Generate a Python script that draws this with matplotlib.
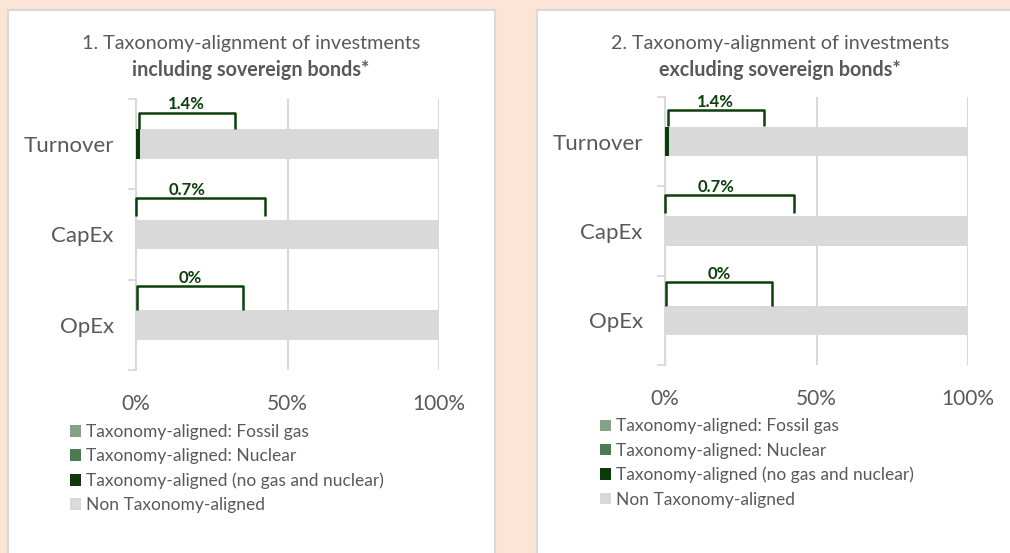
import matplotlib
matplotlib.use("Agg")
import matplotlib.pyplot as plt
from matplotlib.patches import Rectangle
import numpy as np

plt.rcParams['font.family'] = ['Lato', 'DejaVu Sans']

categories = ["Turnover", "CapEx", "OpEx"]
series_names = ["Taxonomy-aligned: Fossil gas", "Taxonomy-aligned: Nuclear",
                "Taxonomy-aligned (no gas and nuclear)", "Non Taxonomy-aligned"]
# panel 1: including sovereign bonds (bar widths as drawn in the picture)
p1_fossil = [0.0, 0.0, 0.0]
p1_nuclear = [0.0, 0.0, 0.0]
p1_aligned = [1.4, 0.1, 0.0]
p1_non = [98.6, 99.9, 100.0]
# panel 2: excluding sovereign bonds
p2_fossil = [0.0, 0.0, 0.0]
p2_nuclear = [0.0, 0.0, 0.0]
p2_aligned = [1.4, 0.1, 0.0]
p2_non = [98.6, 99.9, 100.0]
bracket_labels = ["1.4%", "0.7%", "0%"]
xticks = [0, 50, 100]
xtick_labels = ["0%", "50%", "100%"]
titles_l1 = ["1. Taxonomy-alignment of investments", "2. Taxonomy-alignment of investments"]
titles_l2 = ["including sovereign bonds*", "excluding sovereign bonds*"]

colors = ["#84A384", "#4E7A51", "#0B3B0B", "#D9D9D9"]
txt = "#595959"
dark = "#0B3F0B"
BG = "#FCE4D6"

W, H = 1010, 553
fig = plt.figure(figsize=(W / 100, H / 100), dpi=100)
fig.patch.set_facecolor(BG)

def fx(px):
    return px / W

def fy(py):
    return 1 - py / H

# panel boxes
for x0, x1 in [(8, 495), (537, 1030)]:
    fig.add_artist(Rectangle((fx(x0), fy(570)), fx(x1 - x0), (570 - 9.5) / H,
                             transform=fig.transFigure, facecolor="white",
                             edgecolor="#D9D9D9", linewidth=1.5, zorder=0))

panels = [
    dict(data=(p1_fossil, p1_nuclear, p1_aligned, p1_non), ax=(136, 439, 99, 370),
         title_x=251, leg=(70, 424)),
    dict(data=(p2_fossil, p2_nuclear, p2_aligned, p2_non), ax=(665, 968, 97, 365),
         title_x=780, leg=(600, 418.5)),
]

# bracket geometry (x in %, y in category units)
br_x0 = [1.0, 0.0, 0.3]
br_x1 = [32.7, 42.6, 35.3]
br_top = [-0.35, 0.60, 1.57]
br_bot = [-0.17, 0.80, 1.84]
lab_x = [16.5, 17.0, 18.0]
lab_y = [-0.44, 0.51, 1.48]

for i, p in enumerate(panels):
    x0, x1, y0, y1 = p["ax"]
    ax = fig.add_axes([fx(x0), fy(y1), fx(x1 - x0), (y1 - y0) / H])
    ax.set_facecolor("none")
    y = np.arange(len(categories))
    left = np.zeros(len(categories))
    handles = []
    for vals, col, name in zip(p["data"], colors, series_names):
        b = ax.barh(y, vals, left=left, height=0.33, color=col, label=name, zorder=2)
        handles.append(b)
        left = left + np.array(vals)
    ax.set_xlim(0, 100)
    ax.set_ylim(2.5, -0.5)
    ax.set_xticks(xticks)
    ax.set_xticklabels(xtick_labels, fontsize=15, color=txt)
    ax.set_yticks(y)
    ax.set_yticklabels(categories, fontsize=16, color=txt)
    ax.set_yticks([-0.5, 0.5, 1.5, 2.5], minor=True)
    ax.tick_params(axis="y", which="major", length=0, pad=16)
    ax.tick_params(axis="y", which="minor", length=6, width=1.3, color="#D9D9D9", direction="out")
    ax.tick_params(axis="x", length=0, pad=17)
    for s in ["top", "right", "bottom"]:
        ax.spines[s].set_visible(False)
    ax.spines["left"].set_color("#D9D9D9")
    ax.spines["left"].set_linewidth(1.5)
    ax.spines["left"].set_zorder(1)
    ax.grid(axis="x", color="#D9D9D9", linewidth=1.5, zorder=0)
    ax.set_axisbelow(True)
    for j in range(len(categories)):
        ax.plot([br_x0[j], br_x0[j], br_x1[j], br_x1[j]],
                [br_bot[j], br_top[j], br_top[j], br_bot[j]],
                color=dark, linewidth=1.8, solid_joinstyle="round",
                solid_capstyle="butt", zorder=3, clip_on=False)
        ax.text(lab_x[j], lab_y[j], bracket_labels[j], ha="center", va="center",
                fontsize=12, fontweight="bold", color=dark, zorder=3)
    fig.text(fx(p["title_x"]), fy(43), titles_l1[i], ha="center", va="center",
             fontsize=14.2, color=txt)
    fig.text(fx(p["title_x"]), fy(70), titles_l2[i], ha="center", va="center",
             fontsize=14.2, fontweight="bold", color=txt)
    lx, ly = p["leg"]
    fig.legend(handles=handles, labels=series_names, loc="upper left",
               bbox_to_anchor=(fx(lx), fy(ly)), bbox_transform=fig.transFigure,
               frameon=False, borderpad=0, borderaxespad=0, fontsize=12.5,
               handlelength=0.65, handleheight=0.65, handletextpad=0.3,
               labelspacing=0.47, labelcolor=txt)

fig.savefig("out.png", dpi=100, facecolor=BG)
